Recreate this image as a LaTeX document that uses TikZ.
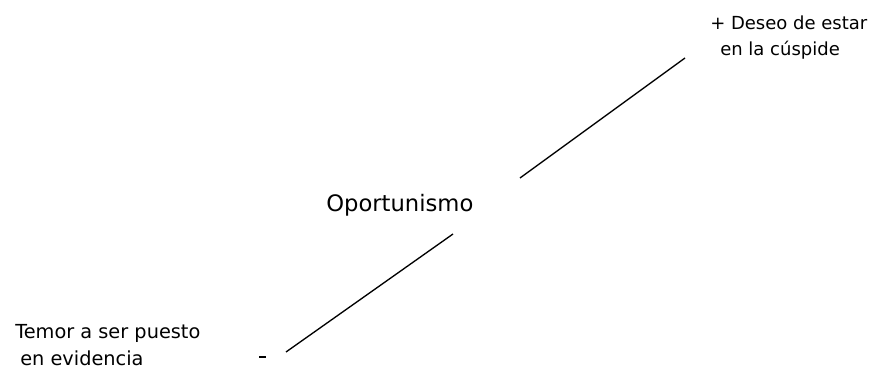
\documentclass[tikz,border=0pt]{standalone}
\usepackage{fontspec}
\setmainfont{DejaVu Sans}
\begin{document}
\begin{tikzpicture}[x=0.75pt,y=-0.75pt]

% Frame
\useasboundingbox (0,0) rectangle (875,370);

% Upper line
\coordinate (up1) at (520,178);
\coordinate (up2) at (685,58);
\draw[line width=1pt] (up1) -- (up2);

% Lower line
\coordinate (lo1) at (286,352);
\coordinate (lo2) at (453,234);
\draw[line width=1pt] (lo1) -- (lo2);

% Center label
\node[anchor=base west,inner sep=0pt] (center) at (326,212) {\fontsize{17}{20}\selectfont Oportunismo};

% Top label
\node[anchor=base west,inner sep=0pt] (top1) at (710,30) {\fontsize{13.5}{16}\selectfont + Deseo de estar};
\node[anchor=base west,inner sep=0pt] (top2) at (720,56) {\fontsize{13.5}{16}\selectfont en la cúspide};

% Bottom label
\node[anchor=base west,inner sep=0pt] (bot1) at (15,339) {\fontsize{14.5}{17}\selectfont Temor a ser puesto};
\node[anchor=base west,inner sep=0pt] (bot2) at (20,366) {\fontsize{14.5}{17}\selectfont en evidencia};

% Minus sign
\draw[line width=2pt] (259,357) coordinate (minus1) -- (266,357) coordinate (minus2);

\end{tikzpicture}
\end{document}
